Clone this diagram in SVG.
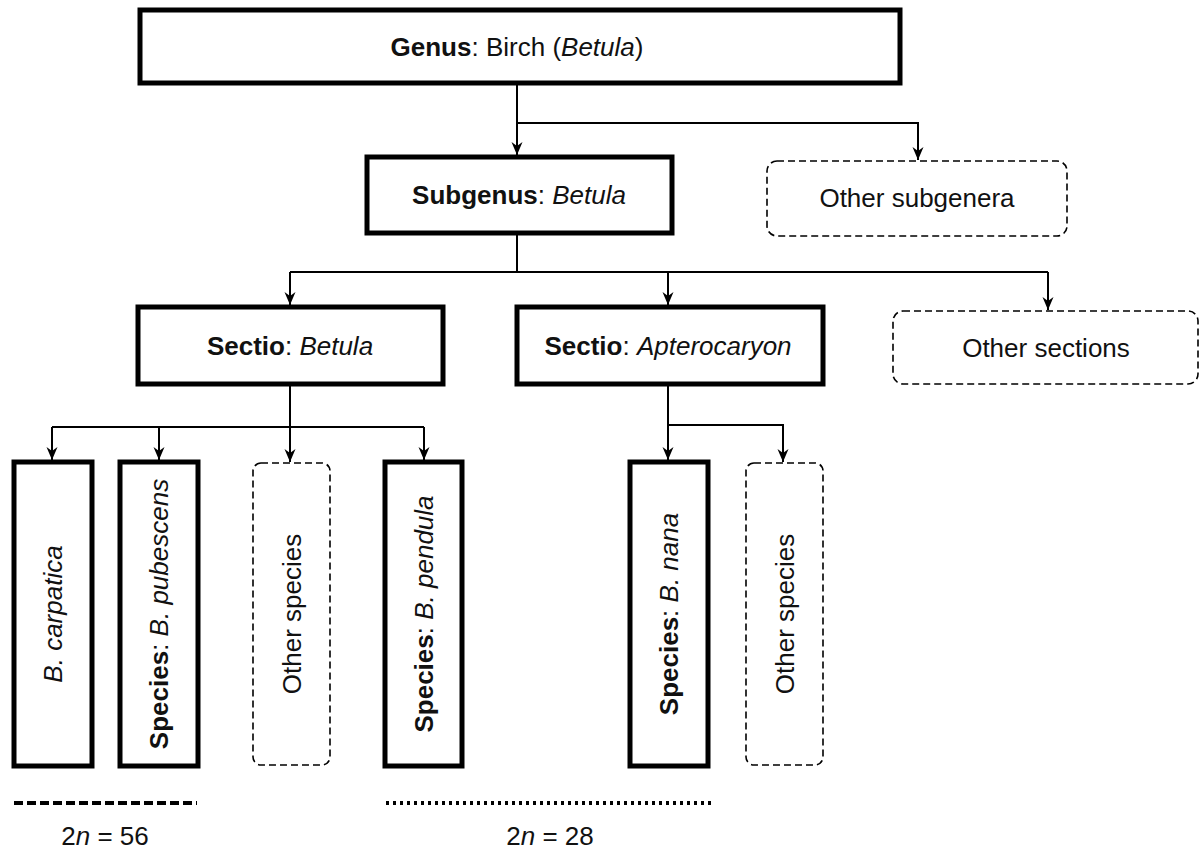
<svg xmlns="http://www.w3.org/2000/svg" width="1204" height="852" viewBox="0 0 1204 852">
<defs>
<marker id="arr" viewBox="-13 -6 14 12" refX="0" refY="0" markerWidth="14" markerHeight="12" markerUnits="userSpaceOnUse" orient="auto">
<path d="M-13,-5.5 L0,0 L-13,5.5 L-9,0 Z" fill="#000"/>
</marker>
</defs>
<style>
text{font-family:"Liberation Sans",Arial,sans-serif;font-size:26px;fill:#111;}
.b{font-weight:bold;}
.i{font-style:italic;}
.box{fill:#fff;stroke:#000;stroke-width:5;}
.dbox{fill:#fff;stroke:#000;stroke-width:1.6;stroke-dasharray:7 4;}
.con{fill:none;stroke:#000;stroke-width:2;}
</style>
<rect width="1204" height="852" fill="#fff"/>
<g id="connectors">
<path class="con" d="M517,83 V155" marker-end="url(#arr)"/>
<path class="con" d="M517,123 H918 V160" marker-end="url(#arr)"/>
<path class="con" d="M517,233 V272"/>
<path class="con" d="M290,272 H1048"/>
<path class="con" d="M290,272 V305" marker-end="url(#arr)"/>
<path class="con" d="M668,272 V305" marker-end="url(#arr)"/>
<path class="con" d="M1048,272 V310" marker-end="url(#arr)"/>
<path class="con" d="M290,384 V462" marker-end="url(#arr)"/>
<path class="con" d="M52,427 H424"/>
<path class="con" d="M52,427 V460" marker-end="url(#arr)"/>
<path class="con" d="M159,427 V460" marker-end="url(#arr)"/>
<path class="con" d="M424,427 V460" marker-end="url(#arr)"/>
<path class="con" d="M668,384 V460" marker-end="url(#arr)"/>
<path class="con" d="M668,425 H783 V462" marker-end="url(#arr)"/>
</g>
<g id="genus">
<rect class="box" x="140" y="10" width="760" height="73"/>
<text x="517" y="56" text-anchor="middle"><tspan class="b">Genus</tspan>: Birch (<tspan class="i">Betula</tspan>)</text>
</g>
<g id="subgenus">
<rect class="box" x="367" y="157" width="305" height="76"/>
<text x="519" y="204" text-anchor="middle"><tspan class="b">Subgenus</tspan>: <tspan class="i">Betula</tspan></text>
</g>
<g id="other-subgenera">
<rect class="dbox" x="767" y="161" width="300" height="75" rx="10"/>
<text x="917" y="207" text-anchor="middle">Other subgenera</text>
</g>
<g id="sectio-betula">
<rect class="box" x="138" y="307" width="305" height="77"/>
<text x="290" y="355" text-anchor="middle"><tspan class="b">Sectio</tspan>: <tspan class="i">Betula</tspan></text>
</g>
<g id="sectio-apterocaryon">
<rect class="box" x="517" y="307" width="306" height="77"/>
<text x="668" y="355" text-anchor="middle"><tspan class="b">Sectio</tspan>: <tspan class="i">Apterocaryon</tspan></text>
</g>
<g id="other-sections">
<rect class="dbox" x="893" y="311" width="305" height="73" rx="10"/>
<text x="1046" y="357" text-anchor="middle">Other sections</text>
</g>
<g id="b-carpatica">
<rect class="box" x="14" y="462" width="78" height="304"/>
<text transform="translate(62,614) rotate(-90)" text-anchor="middle" class="i">B. carpatica</text>
</g>
<g id="b-pubescens">
<rect class="box" x="120" y="462" width="78" height="304"/>
<text transform="translate(168,614) rotate(-90)" text-anchor="middle"><tspan class="b">Species</tspan>: <tspan class="i">B. pubescens</tspan></text>
</g>
<g id="other-species-1">
<rect class="dbox" x="253" y="463" width="77" height="302" rx="8"/>
<text transform="translate(301,614) rotate(-90)" text-anchor="middle">Other species</text>
</g>
<g id="b-pendula">
<rect class="box" x="385" y="462" width="77" height="304"/>
<text transform="translate(433,614) rotate(-90)" text-anchor="middle"><tspan class="b">Species</tspan>: <tspan class="i">B. pendula</tspan></text>
</g>
<g id="b-nana">
<rect class="box" x="630" y="462" width="78" height="304"/>
<text transform="translate(678,614) rotate(-90)" text-anchor="middle"><tspan class="b">Species</tspan>: <tspan class="i">B. nana</tspan></text>
</g>
<g id="other-species-2">
<rect class="dbox" x="746" y="463" width="77" height="302" rx="8"/>
<text transform="translate(794,614) rotate(-90)" text-anchor="middle">Other species</text>
</g>
<g id="legend">
<line x1="14" y1="803" x2="197" y2="803" stroke="#000" stroke-width="4" stroke-dasharray="9 4"/>
<line x1="386" y1="803" x2="712" y2="803" stroke="#000" stroke-width="4" stroke-dasharray="3 4"/>
<text x="105" y="845" text-anchor="middle">2<tspan class="i">n</tspan> = 56</text>
<text x="550" y="845" text-anchor="middle">2<tspan class="i">n</tspan> = 28</text>
</g>
</svg>
